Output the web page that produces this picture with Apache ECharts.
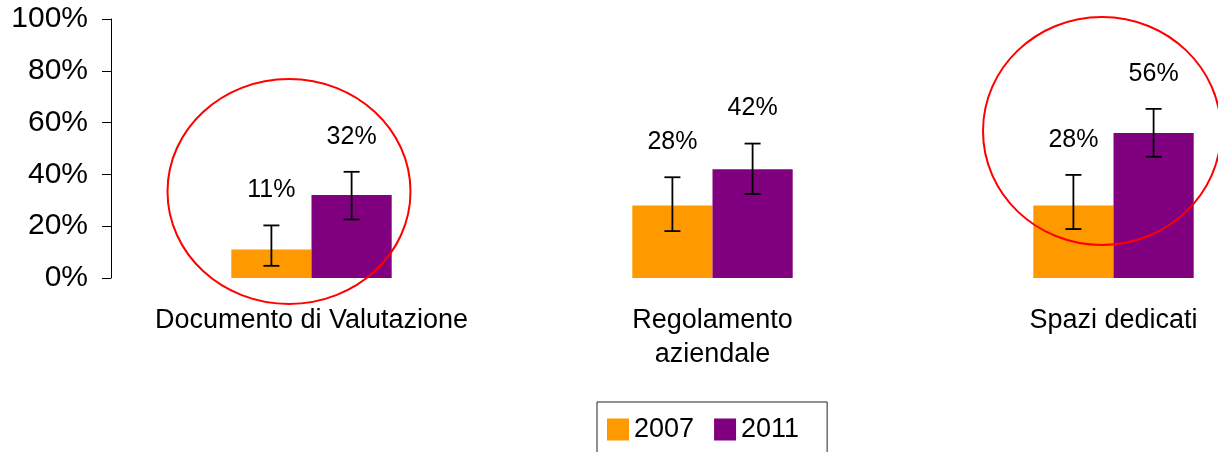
<!DOCTYPE html>
<html>
<head>
<meta charset="utf-8">
<script src="https://cdn.jsdelivr.net/npm/echarts@6/dist/echarts.min.js"></script>
<style>
  html, body { margin: 0; padding: 0; background: #fff; }
  #myChart { width: 1218px; height: 452px; }
</style>
</head>
<body>
<div id="myChart"></div>
<script>
// categorie e valori (percentuali)
const categories = ['Documento di Valutazione', 'Regolamento\naziendale', 'Spazi dedicati'];
const values2007 = [11, 28, 28];
const values2011 = [32, 42, 56];
// estremi delle barre di errore
const errLow2007 = [4.7, 18.1, 18.9];
const errHigh2007 = [20.3, 38.9, 39.8];
const errLow2011 = [22.6, 32.4, 46.8];
const errHigh2011 = [41.0, 51.9, 65.3];
const yTicks = [0, 20, 40, 60, 80, 100];

const FONT = "'Liberation Sans', Arial, sans-serif";

// barre di errore + etichetta del valore, disegnate con una serie custom
function errorSeries(name, lows, highs, vals, offsetFrac) {
  return {
    name: name,
    type: 'custom',
    z: 5,
    encode: { x: 0, y: [1, 2] },
    data: categories.map((c, i) => [i, lows[i], highs[i], vals[i]]),
    renderItem: function (params, api) {
      const band = api.size([1, 0])[0];
      const x = api.coord([api.value(0), 0])[0] + band * offsetFrac;
      const yLo = api.coord([api.value(0), api.value(1)])[1];
      const yHi = api.coord([api.value(0), api.value(2)])[1];
      const style = { stroke: '#000', lineWidth: 1.8 };
      return {
        type: 'group',
        children: [
          { type: 'line', shape: { x1: x, y1: yLo, x2: x, y2: yHi }, style: style },
          { type: 'line', shape: { x1: x - 8, y1: yLo, x2: x + 8, y2: yLo }, style: style },
          { type: 'line', shape: { x1: x - 8, y1: yHi, x2: x + 8, y2: yHi }, style: style },
          {
            type: 'text',
            x: x, y: yHi - 35,
            style: {
              text: api.value(3) + '%',
              fill: '#000',
              font: '25px ' + FONT,
              align: 'center',
              verticalAlign: 'middle'
            }
          }
        ]
      };
    }
  };
}

let myChart = echarts.init(document.getElementById('myChart'));
myChart.setOption({
  animation: false,
  textStyle: { fontFamily: FONT },
  // la terza categoria esce a destra dall'immagine, come nell'originale
  grid: { left: 111, width: 1203, top: 19, bottom: 174, outerBoundsMode: 'none', containLabel: false },
  legend: {
    data: ['2007', '2011'],
    left: 597,
    top: 402,
    padding: [14, 28, 20, 10],
    itemWidth: 22,
    itemHeight: 22,
    itemGap: 20,
    icon: 'rect',
    borderColor: '#222',
    borderWidth: 1,
    textStyle: { fontSize: 27, color: '#000', fontFamily: FONT }
  },
  xAxis: {
    type: 'category',
    data: categories,
    axisLine: { show: false },
    axisTick: { show: false },
    axisLabel: {
      interval: 0,
      fontSize: 27,
      lineHeight: 34,
      margin: 26,
      color: '#000',
      fontFamily: FONT
    }
  },
  yAxis: {
    type: 'value',
    min: yTicks[0],
    max: yTicks[yTicks.length - 1],
    interval: yTicks[1] - yTicks[0],
    axisLine: { show: true, lineStyle: { color: '#000', width: 1 } },
    axisTick: { show: true, length: 9, lineStyle: { color: '#000' } },
    splitLine: { show: false },
    axisLabel: {
      formatter: '{value}%',
      fontSize: 30,
      margin: 23,
      color: '#000',
      fontFamily: FONT
    }
  },
  series: [
    {
      name: '2007',
      type: 'bar',
      barGap: '0%',
      barCategoryGap: '60%',
      itemStyle: { color: '#FF9900' },
      data: values2007
    },
    {
      name: '2011',
      type: 'bar',
      barGap: '0%',
      barCategoryGap: '60%',
      itemStyle: { color: '#800080' },
      data: values2011
    },
    errorSeries('err2007', errLow2007, errHigh2007, values2007, -0.1),
    errorSeries('err2011', errLow2011, errHigh2011, values2011, 0.1)
  ],
  // cerchi rossi di evidenziazione
  graphic: [
    {
      type: 'ellipse', z: 100, silent: true,
      shape: { cx: 289, cy: 191.5, rx: 121.5, ry: 112.5 },
      style: { fill: 'none', stroke: '#FF0000', lineWidth: 2 }
    },
    {
      type: 'ellipse', z: 100, silent: true,
      shape: { cx: 1102, cy: 131, rx: 119, ry: 114 },
      style: { fill: 'none', stroke: '#FF0000', lineWidth: 2 }
    }
  ]
});

window.onresize = function () {
  myChart.resize();
};
</script>
</body>
</html>
